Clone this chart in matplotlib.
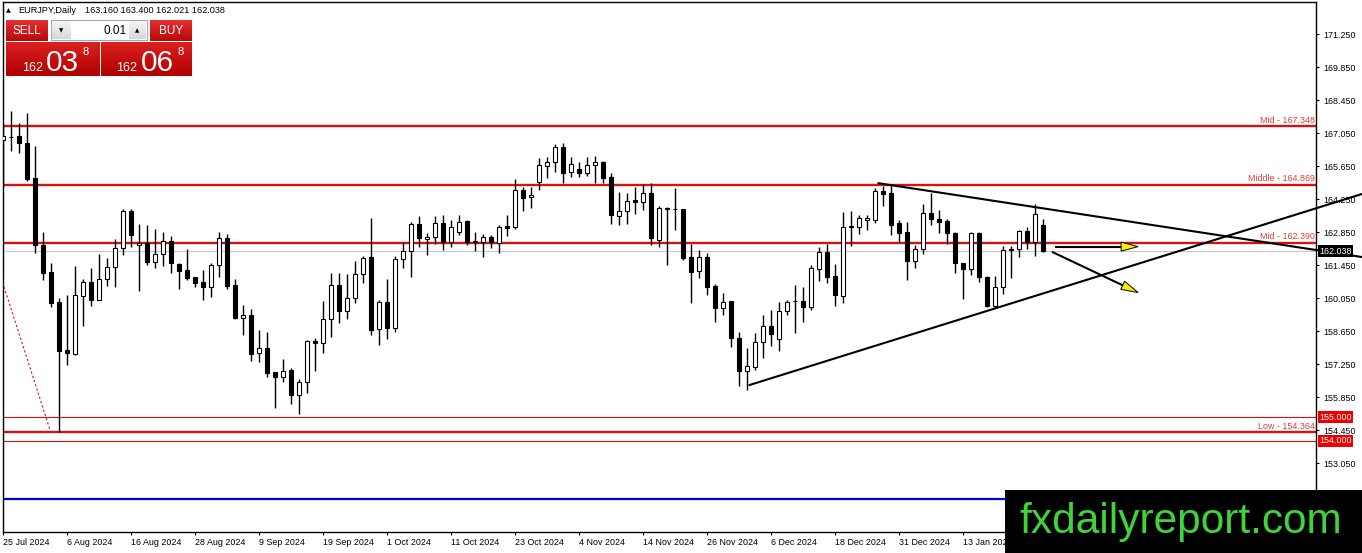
import numpy as np
import matplotlib
matplotlib.use('Agg')
import matplotlib.pyplot as plt
from matplotlib.patches import Rectangle, Polygon
from matplotlib.transforms import IdentityTransform, blended_transform_factory

# ---------------- data ----------------
symbol = "EURJPY,Daily"
ohlc_header = "163.160 163.400 162.021 162.038"

opens = [166.76, 166.90, 166.93, 166.65, 165.15, 162.31, 161.15, 159.88, 157.85, 157.68,
         160.16, 160.73, 159.99, 160.85, 161.36, 162.17, 163.75, 162.30, 162.38, 161.60,
         161.91, 162.49, 161.49, 161.24, 160.94, 160.74, 160.54, 161.46, 162.59, 160.60,
         159.22, 159.34, 157.71, 157.92, 156.91, 156.70, 157.00, 155.95, 156.50, 158.24,
         158.14, 159.16, 160.60, 159.51, 160.05, 161.07, 161.79, 158.73, 159.88, 158.80,
         161.70, 162.06, 163.19, 162.58, 162.66, 163.26, 162.44, 162.87, 163.33, 162.45,
         162.45, 162.64, 162.38, 163.13, 163.09, 164.64, 164.33, 164.99, 165.67, 165.82,
         166.48, 165.42, 165.52, 165.38, 165.70, 165.82, 165.18, 163.54, 163.75, 164.22,
         164.12, 164.53, 162.52, 163.87, 163.82, 163.82, 161.81, 161.22, 161.81, 160.57,
         159.62, 159.93, 158.35, 156.98, 157.15, 158.21, 158.88, 158.31, 159.52, 159.93,
         159.95, 159.69, 161.28, 162.03, 160.99, 160.15, 163.06, 163.09, 163.37, 163.37,
         164.61, 164.53, 163.26, 162.87, 161.64, 162.13, 163.68, 163.40, 163.34, 162.83,
         161.53, 161.28, 162.83, 160.97, 159.72, 160.51, 162.15, 162.13, 162.90, 162.45,
         163.16]
highs = [167.49, 167.99, 167.49, 167.91, 166.51, 162.86, 161.54, 160.06, 160.19, 161.42,
         160.87, 161.33, 161.93, 161.76, 162.56, 163.85, 163.85, 163.20, 163.16, 162.98,
         162.87, 162.70, 161.54, 162.14, 160.96, 161.25, 161.53, 162.87, 162.78, 160.86,
         159.76, 159.58, 158.70, 158.60, 156.93, 157.47, 157.08, 156.61, 158.28, 158.35,
         159.93, 161.10, 161.10, 161.07, 161.63, 161.84, 163.44, 159.98, 160.85, 161.84,
         162.45, 163.30, 163.54, 162.81, 163.54, 163.58, 163.37, 163.58, 163.37, 162.85,
         162.76, 162.73, 163.16, 163.58, 165.10, 164.76, 164.76, 166.01, 166.03, 166.59,
         166.62, 166.05, 165.84, 166.05, 166.09, 165.88, 165.38, 164.57, 164.53, 164.76,
         164.88, 164.93, 163.96, 163.90, 164.72, 163.84, 162.34, 162.10, 161.96, 160.65,
         160.29, 159.93, 158.63, 157.92, 158.59, 159.34, 159.55, 159.90, 159.99, 160.60,
         160.51, 161.46, 162.21, 162.35, 161.50, 163.72, 163.76, 163.58, 163.58, 164.71,
         164.81, 164.86, 163.37, 163.30, 162.31, 164.04, 164.53, 163.79, 163.40, 162.87,
         161.53, 162.87, 162.87, 160.99, 160.99, 162.27, 162.27, 162.94, 163.09, 164.05,
         163.40]
lows = [164.77, 166.30, 166.21, 165.02, 161.98, 160.82, 159.68, 154.364, 157.22, 157.64,
        158.87, 159.72, 159.98, 160.57, 160.53, 161.88, 162.24, 160.37, 161.46, 161.32,
        161.43, 161.13, 160.44, 160.82, 160.54, 159.98, 160.09, 160.96, 160.46, 159.18,
        158.49, 157.40, 157.36, 156.72, 155.40, 156.48, 155.56, 155.12, 156.02, 156.98,
        157.74, 158.39, 158.99, 159.18, 159.83, 160.71, 158.49, 158.07, 158.31, 158.63,
        161.32, 160.96, 162.24, 161.87, 162.34, 162.10, 162.24, 162.73, 162.31, 162.07,
        161.79, 162.17, 161.96, 162.69, 162.98, 163.76, 163.89, 164.64, 165.14, 165.42,
        164.93, 165.18, 165.18, 165.24, 164.95, 164.95, 163.19, 163.16, 163.19, 163.61,
        163.80, 162.31, 162.21, 161.46, 162.95, 161.67, 159.86, 160.92, 160.18, 159.06,
        159.34, 157.99, 156.33, 156.16, 157.00, 157.50, 158.02, 157.83, 159.34, 158.59,
        159.05, 159.55, 160.79, 160.71, 159.72, 159.84, 162.27, 162.78, 162.94, 163.23,
        163.97, 162.73, 162.45, 160.82, 161.34, 161.93, 163.16, 162.81, 162.35, 161.13,
        160.01, 161.04, 160.75, 159.69, 159.62, 160.23, 160.90, 161.79, 162.13, 161.84,
        162.021]
closes = [166.93, 166.88, 166.62, 165.10, 162.31, 161.10, 159.84, 157.83, 157.71, 160.19,
          160.73, 159.98, 160.85, 161.36, 162.17, 163.75, 162.73, 162.38, 161.60, 161.93,
          162.49, 161.53, 161.22, 160.92, 160.71, 160.54, 161.46, 162.59, 160.58, 159.22,
          159.33, 157.68, 157.92, 156.89, 156.70, 156.97, 155.95, 156.50, 158.24, 158.14,
          159.16, 160.60, 159.51, 160.05, 161.07, 161.77, 158.70, 159.88, 158.77, 161.70,
          162.06, 163.19, 162.59, 162.66, 163.26, 162.44, 163.06, 163.30, 162.45, 162.46,
          162.64, 162.45, 163.06, 163.05, 164.64, 164.31, 164.43, 165.70, 165.84, 166.48,
          165.38, 165.73, 165.38, 165.70, 165.82, 165.14, 163.58, 163.74, 164.19, 164.12,
          164.53, 162.59, 163.87, 163.84, 163.84, 161.77, 161.18, 161.81, 160.54, 159.62,
          159.90, 158.35, 156.98, 157.18, 158.21, 158.88, 158.52, 159.52, 159.89, 159.95,
          159.69, 161.32, 162.03, 160.97, 160.19, 163.09, 163.12, 163.44, 163.44, 164.61,
          164.47, 163.16, 162.81, 161.64, 162.13, 163.68, 163.40, 163.30, 162.81, 161.53,
          161.28, 162.83, 160.94, 159.72, 160.51, 162.10, 162.10, 162.90, 162.45, 163.63,
          162.038]

date_tick_bars = [0, 8, 16, 24, 32, 40, 48, 56, 64, 72, 80, 88, 96, 104, 112, 120]
date_tick_labels = ["25 Jul 2024", "6 Aug 2024", "16 Aug 2024", "28 Aug 2024", "9 Sep 2024",
                    "19 Sep 2024", "1 Oct 2024", "11 Oct 2024", "23 Oct 2024", "4 Nov 2024",
                    "14 Nov 2024", "26 Nov 2024", "6 Dec 2024", "18 Dec 2024", "31 Dec 2024",
                    "13 Jan 2025"]
price_ticks = [171.250, 169.850, 168.450, 167.050, 165.650, 164.250, 162.850,
               161.450, 160.050, 158.650, 157.250, 155.850, 154.450, 153.050]

level_values = [167.348, 164.869, 162.390, 154.364]
level_names = ["Mid", "Middle", "Mid", "Low"]
thin_levels = [155.000, 154.000]
blue_level = 151.53
bid_price = 162.038

# trendlines: (bar, price) endpoints
upper_tl = ([109.4, 169.8], [164.93, 161.80])
lower_tl = ([93.3, 169.8], [156.37, 164.47])
dotted_tl = ([-0.08, 5.84], [160.71, 154.46])
arrow_h = ((131.6, 162.24), (141.85, 162.24))
arrow_d = ((131.2, 162.00), (141.85, 160.29))

sell_price = ("162", "03", "8")
buy_price = ("162", "06", "8")
lot = "0.01"
watermark = "fxdailyreport.com"

# ---------------- figure ----------------
W, H = 1362, 553
plt.rcParams['font.family'] = ['Liberation Sans', 'DejaVu Sans']
fig = plt.figure(figsize=(W / 100, H / 100), dpi=100)
fig.patch.set_facecolor('white')

def frect(x0, y0, x1, y1):
    return [x0 / W, 1 - y1 / H, (x1 - x0) / W, (y1 - y0) / H]

ax = fig.add_axes(frect(3, 2, 1316, 532))
RED = '#d41212'
LRED = '#e23a3a'
FS = 6.4

x = np.arange(len(opens))
o = np.array(opens); h = np.array(highs); l = np.array(lows); c = np.array(closes)
ax.vlines(x, l, h, color='black', lw=1.0, zorder=3)
bottoms = np.minimum(o, c)
heights = np.abs(c - o)
cols = ['white' if cc >= oo else 'black' for oo, cc in zip(o, c)]
ax.bar(x, heights, bottom=bottoms, width=0.5, color=cols, edgecolor='black',
       linewidth=0.8, zorder=4)

ax.set_xlim((3 - 3.3) / 8, (1316 - 3.3) / 8)
ax.set_ylim(150.13, 172.62)

# horizontal lines
for v in level_values:
    ax.axhline(v, color=RED, lw=1.7, zorder=2)
for v in thin_levels:
    ax.axhline(v, color=RED, lw=0.8, zorder=2)
ax.axhline(bid_price, color='#c4c4cc', lw=0.8, zorder=1)
ax.axhline(blue_level, color='#0000cc', lw=1.6, zorder=2)

xr = ax.get_xlim()[1] - 0.12
for v, n in zip(level_values, level_names):
    ax.text(xr, v + 0.07, f"{n} - {v:.3f}", ha='right', va='bottom', color=LRED,
            fontsize=FS, zorder=5)

# trendlines
ax.plot(*upper_tl, color='black', lw=1.5, clip_on=False, zorder=6)
ax.plot(*lower_tl, color='black', lw=1.5, clip_on=False, zorder=6)
ax.plot(*dotted_tl, color=RED, lw=0.8, ls=(0, (2, 2)), zorder=3)

# arrows
fig.canvas.draw()
def draw_arrow(start, tip):
    s = ax.transData.transform(start)
    t = ax.transData.transform(tip)
    d = (t - s) / np.hypot(*(t - s))
    base = t - 17 * d
    perp = np.array([-d[1], d[0]])
    sp = ax.transData.inverted().transform(base)
    ax.plot([start[0], sp[0]], [start[1], sp[1]], color='black', lw=1.5, zorder=6)
    tri = np.array([t, base + 4.5 * perp, base - 4.5 * perp])
    fig.patches.append(Polygon(tri, closed=True, fc='#f2f200', ec='black', lw=0.7,
                               transform=IdentityTransform(), figure=fig, zorder=7))
draw_arrow(*arrow_h)
draw_arrow(*arrow_d)

# axes styling
for sp_ in ax.spines.values():
    sp_.set_color('black'); sp_.set_linewidth(1.0)
ax.yaxis.tick_right()
ax.set_yticks(price_ticks)
ax.set_yticklabels([f"{p:.3f}" for p in price_ticks])
ax.tick_params(axis='y', direction='out', length=2.5, width=0.8, labelsize=FS, pad=2.5)
ax.set_xticks(date_tick_bars)
ax.set_xticklabels(date_tick_labels)
ax.tick_params(axis='x', direction='out', length=2.5, width=0.8, labelsize=FS, pad=1.5)
for lbl in ax.get_xticklabels():
    lbl.set_ha('left')

# price boxes on the axis
btr = blended_transform_factory(ax.transAxes, ax.transData)
for v in thin_levels:
    ax.text(1.0025, v, f"{v:.3f}", transform=btr, ha='left', va='center', color='white',
            fontsize=FS, clip_on=False, zorder=8,
            bbox=dict(boxstyle='square,pad=0.18', fc='#ee0000', ec='none'))
ax.text(1.0025, bid_price, f"{bid_price:.3f}", transform=btr, ha='left', va='center',
        color='white', fontsize=FS, clip_on=False, zorder=8,
        bbox=dict(boxstyle='square,pad=0.18', fc='black', ec='none'))

# ---------------- header & trade panel ----------------
def ty(py):
    return 1 - py / H
def tx(px):
    return px / W

fig.text(tx(6), ty(10.5), "\u25b2", fontsize=4.5, va='center', ha='left', color='black',
         family=['DejaVu Sans'])
fig.text(tx(18), ty(10.5), symbol, fontsize=6.6, va='center', ha='left', color='black')
fig.text(tx(85), ty(10.5), ohlc_header, fontsize=6.6, va='center', ha='left', color='black')

def grad_box(x0, y0, x1, y1, top, bottom, z=5):
    a = fig.add_axes(frect(x0, y0, x1, y1), zorder=z)
    t = np.array(matplotlib.colors.to_rgb(top)); b = np.array(matplotlib.colors.to_rgb(bottom))
    g = np.linspace(0, 1, 40)[:, None, None]
    img = t[None, None, :] * (1 - g) + b[None, None, :] * g
    a.imshow(img, aspect='auto', extent=(0, 1, 0, 1), interpolation='bilinear')
    a.set_axis_off()
    return a

grad_box(6, 20, 47, 41, '#e43030', '#b80808')
grad_box(150, 20, 192, 41, '#e43030', '#b80808')
grad_box(6, 42, 99, 76, '#dc2020', '#b00000')
grad_box(101, 42, 192, 76, '#dc2020', '#b00000')
# lot control
fig.patches.append(Rectangle((tx(51), ty(40)), (147 - 51) / W, 20 / H, transform=fig.transFigure,
                             fc='white', ec='#a8a8a8', lw=0.8, zorder=5))
grad_box(52, 21, 71, 39, '#f4f4f4', '#d8d8d8', z=6)
grad_box(129, 21, 146, 39, '#f4f4f4', '#d8d8d8', z=6)

fig.text(tx(26.5), ty(30.5), "SELL", fontsize=8.5, color='white', ha='center', va='center', zorder=10)
fig.text(tx(171), ty(30.5), "BUY", fontsize=8.5, color='white', ha='center', va='center', zorder=10)
fig.text(tx(61.5), ty(30.5), "\u25bc", fontsize=4, color='black', ha='center', va='center',
         family=['DejaVu Sans'], zorder=10)
fig.text(tx(137.5), ty(30.5), "\u25b2", fontsize=4, color='black', ha='center', va='center',
         family=['DejaVu Sans'], zorder=10)
fig.text(tx(126.5), ty(30.5), lot, fontsize=8.5, color='black', ha='right', va='center', zorder=10)

for (small, big, sup), (x_small, x_big, x_sup) in [(sell_price, (22.5, 46, 82.5)),
                                                    (buy_price, (116.5, 141, 177.5))]:
    fig.text(tx(x_small), ty(70.7), small, fontsize=9, color='white', ha='left',
             va='baseline', zorder=10)
    fig.text(tx(x_big), ty(70.7), big, fontsize=21.5, color='white', ha='left',
             va='baseline', zorder=10)
    fig.text(tx(x_sup), ty(55), sup, fontsize=8, color='white', ha='left',
             va='baseline', zorder=10)

# ---------------- watermark ----------------
fig.patches.append(Rectangle((tx(1005), 0), (W - 1005) / W, 63 / H, transform=fig.transFigure,
                             fc='black', ec='none', zorder=20))
fig.text(tx(1181), ty(533), watermark, fontsize=30.5, color='#3ed43a', ha='center',
         va='baseline', zorder=21, family=['Liberation Sans'])

fig.savefig('out.png', dpi=100)
